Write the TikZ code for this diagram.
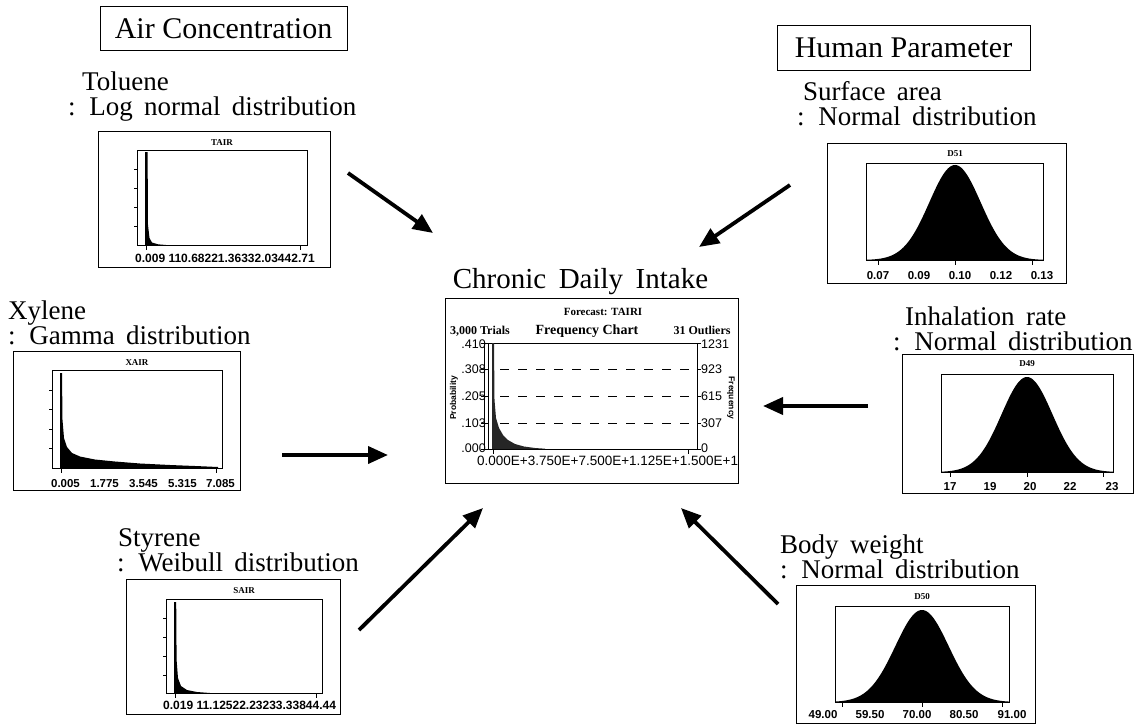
\documentclass[tikz,border=0pt]{standalone}
\usepackage{fontspec}
\setmainfont{Liberation Serif}
\newfontfamily\chartsans{Liberation Sans}
\usetikzlibrary{arrows.meta}
\newcommand\headfont{\fontsize{30}{32}\selectfont}
\newcommand\subfont{\fontsize{27}{28}\selectfont\spaceskip=0.42em\relax}
\newcommand\cdifont{\fontsize{29}{30}\selectfont\spaceskip=0.43em\relax}
\begin{document}
\begin{tikzpicture}[x=1pt,y=-1pt,
  headbox/.style={draw, line width=0.8pt, font=\headfont, inner sep=0pt},
  sub/.style={font=\subfont, inner sep=0pt, anchor=base west},
  frame/.style={draw, line width=0.9pt},
  inframe/.style={draw, line width=0.7pt},
  ttl/.style={font=\bfseries\fontsize{9}{10}\selectfont, inner sep=0pt},
  lab/.style={font=\chartsans\bfseries\fontsize{11.5}{12}\selectfont, inner sep=0pt, anchor=base},
  labw/.style={font=\chartsans\bfseries\fontsize{12}{12}\selectfont, inner sep=0pt, anchor=base west},
  clab/.style={font=\chartsans\fontsize{12.5}{13}\selectfont, inner sep=0pt},
  cttl/.style={font=\bfseries\fontsize{12}{12}\selectfont, inner sep=0pt, anchor=base},
  fat/.style={line width=3.8pt, -{Triangle[length=20pt,width=17pt]}},
  tk/.style={line width=0.6pt},
]
\useasboundingbox (0,0) rectangle (1139,726);

% ---------- headings ----------
\node[headbox, minimum width=247pt, minimum height=44pt] (air) at (223.5,28.5) {Air Concentration};
\node[headbox, minimum width=253pt, minimum height=45pt] (hum) at (903.5,47.5) {Human Parameter};

% ---------- sub headings ----------
\node[sub] (tolA) at (82,90) {Toluene};
\node[sub] (tolB) at (68,115) {: Log normal distribution};
\node[sub] (xylA) at (8,319) {Xylene};
\node[sub] (xylB) at (8,344) {: Gamma distribution};
\node[sub] (styA) at (118,546) {Styrene};
\node[sub] (styB) at (117,571) {: Weibull distribution};
\node[sub] (surA) at (803,100) {Surface area};
\node[sub] (surB) at (797,125) {: Normal distribution};
\node[sub] (inhA) at (905,325) {Inhalation rate};
\node[sub] (inhB) at (893,350) {: Normal distribution};
\node[sub] (bodA) at (780,553) {Body weight};
\node[sub] (bodB) at (780,578) {: Normal distribution};
\node[font=\cdifont, inner sep=0pt, anchor=base] (cdi) at (580.5,288) {Chronic Daily Intake};

% ---------- Toluene chart ----------
\draw[frame] (98,131) rectangle (330,267);
\draw[inframe] (137,150) rectangle (307,245);
\node[ttl] (tair) at (222,143) {TAIR};
\fill (145,245) -- (145.2,152) -- (147.6,152) -- (148,225) -- (149.5,238) -- (152,242.5) -- (158,244.3) -- (166,245) -- cycle;
\foreach \yy in {169,188,207,226} \draw[tk] (137,\yy) -- (134,\yy);
\draw[tk] (146,245) -- (146,250); \draw[tk] (300,245) -- (300,250);
\node[labw] (tairx) at (135,262) {0.009 110.68221.36332.03442.71};

% ---------- Xylene chart ----------
\draw[frame] (13,351) rectangle (240,490);
\draw[inframe] (52,370) rectangle (222,468);
\node[ttl] (xair) at (137,363) {XAIR};
\fill (60,468) -- (60.2,373) -- (62,373) -- (62.5,420) -- (64,438) -- (67,447) -- (72,453) -- (80,456.5) -- (95,459.5) -- (115,461.5) -- (140,463.5) -- (170,465) -- (200,466.2) -- (218,467) -- (218,468) -- cycle;
\foreach \yy in {390,409,429,448} \draw[tk] (52,\yy) -- (49,\yy);
\draw[tk] (61,468) -- (61,473); \draw[tk] (216,468) -- (216,473);
\node[lab] (x1) at (65.5,487) {0.005};
\node[lab] (x2) at (104.5,487) {1.775};
\node[lab] (x3) at (143.5,487) {3.545};
\node[lab] (x4) at (182.5,487) {5.315};
\node[lab] (x5) at (220.5,487) {7.085};

% ---------- Styrene chart ----------
\draw[frame] (126,579) rectangle (340,714);
\draw[inframe] (166,599) rectangle (322,693);
\node[ttl] (sair) at (244,591) {SAIR};
\fill (174,693) -- (174.2,602) -- (176.2,602) -- (176.6,660) -- (178,678) -- (181,686) -- (187,690) -- (197,692) -- (210,693) -- cycle;
\foreach \yy in {618,637,656,675} \draw[tk] (166,\yy) -- (163,\yy);
\draw[tk] (175,693) -- (175,698); \draw[tk] (316,693) -- (316,698);
\node[labw] (sairx) at (163,709) {0.019 11.12522.23233.33844.44};

% ---------- central forecast chart ----------
\draw[frame] (445,298) rectangle (738,483);
\node[font=\bfseries\fontsize{11}{12}\selectfont, inner sep=0pt] (fc) at (603,312) {Forecast: TAIRI};
\node[cttl] (tri) at (480,334) {3,000 Trials};
\node[cttl, font=\bfseries\fontsize{14}{14}\selectfont] (fch) at (587,334) {Frequency Chart};
\node[cttl] (outl) at (702,334) {31 Outliers};
\draw[inframe] (488,343) rectangle (697,449);
\draw[line width=0.6pt] (484,343) -- (484,449);
\foreach \yy in {369,396,423} \draw[dash pattern=on 9pt off 9pt, line width=0.7pt] (500,\yy) -- (690,\yy);
\foreach \yy in {343,369,396,423,449} {\draw[tk] (488,\yy) -- (481,\yy); \draw[tk] (697,\yy) -- (701,\yy);}
\fill[black!85] (492,449) -- (492,343) -- (494,343) -- (494.5,400) -- (496,418) -- (499,428) -- (503,435) -- (508,440) -- (515,444) -- (524,446.5) -- (535,448) -- (545,448.7) -- (545,449) -- cycle;
\draw[tk] (493,449) -- (493,454); \draw[tk] (688,449) -- (688,454);
\node[clab, anchor=east] (l1) at (486,344) {.410};
\node[clab, anchor=east] (l2) at (486,369) {.308};
\node[clab, anchor=east] (l3) at (486,396) {.205};
\node[clab, anchor=east] (l4) at (486,423) {.103};
\node[clab, anchor=east] (l5) at (486,448) {.000};
\node[clab, anchor=west] (r1) at (701,344) {1231};
\node[clab, anchor=west] (r2) at (701,369) {923};
\node[clab, anchor=west] (r3) at (701,396) {615};
\node[clab, anchor=west] (r4) at (701,423) {307};
\node[clab, anchor=west] (r5) at (701,448) {0};
\node[font=\chartsans\bfseries\fontsize{8.5}{9}\selectfont, rotate=90, inner sep=0pt] (prob) at (454,398) {Probability};
\node[font=\chartsans\bfseries\fontsize{8.5}{9}\selectfont, rotate=-90, inner sep=0pt] (freq) at (731,398) {Frequency};
\node[anchor=base west, inner sep=0pt, font=\chartsans\fontsize{13.5}{14}\selectfont] (cx) at (477,465) {0.000E+3.750E+7.500E+1.125E+1.500E+1};

% ---------- D51 chart ----------
\draw[frame] (827,143) rectangle (1066,283);
\draw[inframe] (866,163) rectangle (1043,260);
\node[ttl] (d51) at (955,154) {D51};
\fill (866,260) -- plot[domain=866:1043,samples=120] (\x,{260-95*exp(-0.5*((\x-955)/25.7)^2)}) -- (1043,260) -- cycle;
\foreach \xx in {878,955,1032} \draw[tk] (\xx,260) -- (\xx,265);
\node[lab] (a1) at (878,279) {0.07};
\node[lab] (a2) at (919,279) {0.09};
\node[lab] (a3) at (960,279) {0.10};
\node[lab] (a4) at (1001,279) {0.12};
\node[lab] (a5) at (1042,279) {0.13};

% ---------- D49 chart ----------
\draw[frame] (902,354) rectangle (1133,493);
\draw[inframe] (941,374) rectangle (1113,472);
\node[ttl] (d49) at (1027,364) {D49};
\fill (941,472) -- plot[domain=941:1113,samples=120] (\x,{472-95*exp(-0.5*((\x-1027)/25.5)^2)}) -- (1113,472) -- cycle;
\foreach \xx in {950,1027,1103} \draw[tk] (\xx,472) -- (\xx,477);
\node[lab] (b1) at (950,490) {17};
\node[lab] (b2) at (990,490) {19};
\node[lab] (b3) at (1030,490) {20};
\node[lab] (b4) at (1070,490) {22};
\node[lab] (b5) at (1112,490) {23};

% ---------- D50 chart ----------
\draw[frame] (796,585) rectangle (1035,723);
\draw[inframe] (835,606) rectangle (1009,702);
\node[ttl] (d50) at (922,597) {D50};
\fill (835,702) -- plot[domain=835:1009,samples=120] (\x,{702-92*exp(-0.5*((\x-922)/26.7)^2)}) -- (1009,702) -- cycle;
\foreach \xx in {842,922,1002} \draw[tk] (\xx,702) -- (\xx,707);
\node[lab] (c1) at (823,718) {49.00};
\node[lab] (c2) at (870,718) {59.50};
\node[lab] (c3) at (917,718) {70.00};
\node[lab] (c4) at (964,718) {80.50};
\node[lab] (c5) at (1012,718) {91.00};

% ---------- arrows ----------
\coordinate (tolS) at (348,173); \coordinate (tolE) at (433,233);
\coordinate (surS) at (790,185); \coordinate (surE) at (699,247);
\coordinate (xylS) at (282,455); \coordinate (xylE) at (388,455);
\coordinate (inhS) at (868,406); \coordinate (inhE) at (763,406);
\coordinate (styS) at (359,630); \coordinate (styE) at (483,508);
\coordinate (bodS) at (778,604); \coordinate (bodE) at (681,508);
\draw[fat] (tolS) -- (tolE);
\draw[fat] (surS) -- (surE);
\draw[fat] (xylS) -- (xylE);
\draw[fat] (inhS) -- (inhE);
\draw[fat] (styS) -- (styE);
\draw[fat] (bodS) -- (bodE);
\end{tikzpicture}
\end{document}
